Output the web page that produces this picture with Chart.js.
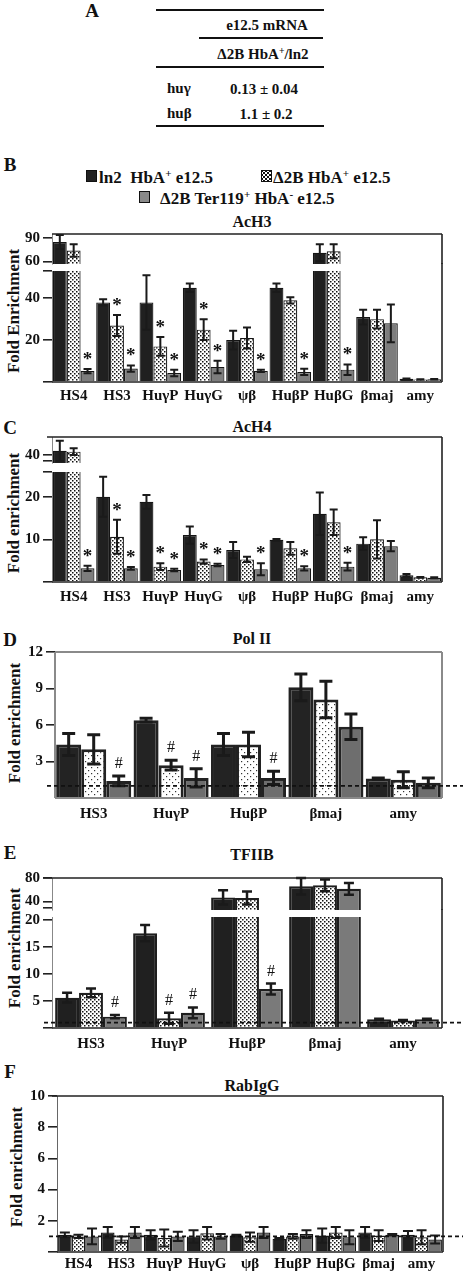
<!DOCTYPE html>
<html>
<head>
<meta charset="utf-8">
<script src="https://cdn.jsdelivr.net/npm/chart.js@4.4.1/dist/chart.umd.min.js"></script>
<style>
  body { margin: 0; background: #fff; }
  #fig { position: relative; width: 463px; height: 1271px; overflow: hidden;
         font-family: "Liberation Serif", "DejaVu Serif", serif; font-weight: bold; color: #111; }
  .t { position: absolute; white-space: nowrap; transform: translate(-50%, -50%); line-height: 1; }
  .l { position: absolute; white-space: nowrap; transform: translateY(-50%); line-height: 1; }
  .hr { position: absolute; height: 2px; background: #111; }
  .yt { position: absolute; white-space: nowrap; transform: translate(-50%, -50%) rotate(-90deg); font-size: 17px; line-height: 1; }
  .sw { position: absolute; width: 9px; height: 10px; border: 1.5px solid #111; }
  sup { font-size: 0.65em; vertical-align: 0.5em; line-height: 0; }
  canvas { position: absolute; left: 0; }
</style>
</head>
<body>
<div id="fig">
  <!-- A: table -->
  <div class="t" style="left:92px;top:10px;font-size:19px">A</div>
  <div class="hr" style="left:156px;top:9px;width:168px"></div>
  <div class="t" style="left:267px;top:25px;font-size:15px">e12.5 mRNA</div>
  <div class="hr" style="left:199px;top:37px;width:124px"></div>
  <div class="t" style="left:263px;top:54px;font-size:15px">Δ2B HbA<sup>+</sup>/ln2</div>
  <div class="hr" style="left:156px;top:66px;width:168px"></div>
  <div class="l" style="left:167px;top:88px;font-size:15px">huγ</div>
  <div class="t" style="left:264px;top:89px;font-size:15px">0.13 ± 0.04</div>
  <div class="l" style="left:167px;top:113px;font-size:15px">huβ</div>
  <div class="t" style="left:266px;top:114px;font-size:15px">1.1 ± 0.2</div>
  <div class="hr" style="left:156px;top:125px;width:168px"></div>

  <!-- legend -->
  <div class="t" style="left:10px;top:164px;font-size:19px">B</div>
  <div class="sw" style="left:86px;top:170px;background:#222"></div>
  <div class="l" style="left:99px;top:177px;font-size:17px">ln2&nbsp; HbA<sup>+</sup> e12.5</div>
  <div class="sw" id="dotSw" style="left:261px;top:170px"></div>
  <div class="l" style="left:273px;top:177px;font-size:17px">Δ2B HbA<sup>+</sup> e12.5</div>
  <div class="sw" style="left:139px;top:191px;background:#8a8a8a"></div>
  <div class="l" style="left:160px;top:198px;font-size:17px">Δ2B Ter119<sup>+</sup> HbA<sup>-</sup> e12.5</div>

  <!-- panel titles and letters -->
  <div class="t" style="left:252px;top:222px;font-size:16px">AcH3</div>
  <div class="t" style="left:10px;top:427px;font-size:19px">C</div>
  <div class="t" style="left:252px;top:427px;font-size:16px">AcH4</div>
  <div class="t" style="left:10px;top:639px;font-size:19px">D</div>
  <div class="t" style="left:252px;top:639px;font-size:16px">Pol II</div>
  <div class="t" style="left:10px;top:852px;font-size:19px">E</div>
  <div class="t" style="left:252px;top:855px;font-size:16px">TFIIB</div>
  <div class="t" style="left:10px;top:1071px;font-size:19px">F</div>
  <div class="t" style="left:252px;top:1086px;font-size:16px">RabIgG</div>

  <div class="yt" style="left:13px;top:311px">Fold Enrichment</div>
  <div class="yt" style="left:13px;top:513px">Fold enrichment</div>
  <div class="yt" style="left:14px;top:723px">Fold enrichment</div>
  <div class="yt" style="left:14px;top:948px">Fold enrichment</div>
  <div class="yt" style="left:16px;top:1167px">Fold enrichment</div>

  <canvas id="b1"></canvas><canvas id="b2"></canvas>
  <canvas id="c1"></canvas><canvas id="c2"></canvas>
  <canvas id="d1"></canvas>
  <canvas id="e1"></canvas><canvas id="e2"></canvas>
  <canvas id="f1"></canvas>
</div>

<script>
// ---------- data ----------
const cats9 = ['HS4', 'HS3', 'HuγP', 'HuγG', 'ψβ', 'HuβP', 'HuβG', 'βmaj', 'amy'];
const cats5 = ['HS3', 'HuγP', 'HuβP', 'βmaj', 'amy'];

// B: AcH3
const acH3Ln2    = [85, 38, 38, 45, 20, 45, 71, 31, 1.5];
const acH3Ln2Err = [9, 1.5, 13, 2, 4.5, 2, 11, 3.5, 0.2];
const acH3Hba    = [74, 27, 17, 25, 21, 39, 73, 30, 1.2];
const acH3HbaErr = [8, 5, 4.5, 5, 5, 1.5, 9, 4.5, 0.1];
const acH3Ter    = [5.2, 6.4, 4.3, 7.2, 5.3, 4.8, 5.9, 28, 1.3];
const acH3TerErr = [1, 1.5, 1.5, 3, 0.5, 1.5, 2.5, 9, 0.1];
const acH3HbaSig = ['', '*', '*', '*', '', '', '', '', ''];
const acH3TerSig = ['*', '*', '*', '*', '*', '*', '*', '', ''];

// C: AcH4
const acH4Ln2    = [42, 20, 18.8, 11, 7.5, 9.9, 16, 9, 1.6];
const acH4Ln2Err = [5, 4.7, 1.6, 2, 1.9, 0.2, 5, 1.5, 0.3];
const acH4Hba    = [41.6, 10.6, 3.6, 4.8, 5.3, 7.9, 14, 10, 1.1];
const acH4HbaErr = [1.7, 4, 0.8, 0.5, 0.6, 1.5, 3, 4.5, 0.1];
const acH4Ter    = [3.2, 3.2, 2.8, 4, 3, 3.2, 3.6, 8.4, 1.0];
const acH4TerErr = [0.6, 0.3, 0.3, 0.3, 1.4, 0.5, 0.9, 1.2, 0.1];
const acH4HbaSig = ['', '*', '*', '*', '', '', '', '', ''];
const acH4TerSig = ['*', '*', '*', '*', '*', '*', '*', '', ''];

// D: Pol II
const pol2Ln2    = [4.4, 6.4, 4.4, 9.1, 1.6];
const pol2Ln2Err = [0.9, 0.15, 0.9, 1.1, 0.05];
const pol2Hba    = [4.0, 2.7, 4.4, 8.1, 1.5];
const pol2HbaErr = [1.2, 0.4, 1.0, 1.5, 0.65];
const pol2Ter    = [1.4, 1.65, 1.65, 5.85, 1.25];
const pol2TerErr = [0.4, 0.75, 0.55, 1.05, 0.4];
const pol2HbaSig = ['', '#', '', '', ''];
const pol2TerSig = ['#', '#', '#', '', ''];

// E: TFIIB
const tf2bLn2    = [5.6, 17.5, 47, 66, 1.6];
const tf2bLn2Err = [0.9, 1.5, 12, 14, 0.1];
const tf2bHba    = [6.5, 1.8, 46, 67.5, 1.4];
const tf2bHbaErr = [0.8, 1.0, 11, 10, 0.1];
const tf2bTer    = [2.1, 2.8, 7.2, 61.6, 1.6];
const tf2bTerErr = [0.3, 1.0, 1.0, 10, 0.1];
const tf2bHbaSig = ['', '#', '', '', ''];
const tf2bTerSig = ['#', '#', '#', '', ''];

// F: RabIgG
const igLn2    = [1.1, 1.25, 1.1, 1.0, 1.05, 0.85, 1.05, 1.25, 1.1];
const igLn2Err = [0.15, 0.35, 0.3, 0.4, 0.05, 0.05, 0.45, 0.35, 0.25];
const igHba    = [1.0, 0.8, 0.9, 1.2, 0.95, 1.0, 1.25, 1.05, 0.95];
const igHbaErr = [0.1, 0.2, 0.55, 0.4, 0.3, 0.15, 0.35, 0.35, 0.45];
const igTer    = [1.0, 1.25, 1.0, 1.0, 1.25, 1.15, 0.95, 1.1, 0.8];
const igTerErr = [0.5, 0.35, 0.3, 0.15, 0.35, 0.25, 0.45, 0.05, 0.25];

const noSig = [];
const baseline = 1;

// ---------- helpers ----------
function dots(tile, size) {
  const c = document.createElement('canvas');
  c.width = tile * 2; c.height = tile * 2;
  const x = c.getContext('2d');
  x.fillStyle = '#fff'; x.fillRect(0, 0, c.width, c.height);
  x.fillStyle = '#111';
  x.fillRect(0, 0, size, size);
  x.fillRect(tile, tile, size, size);
  return x.createPattern(c, 'repeat');
}
function sparseDots() {
  const c = document.createElement('canvas');
  c.width = 6; c.height = 6;
  const x = c.getContext('2d');
  x.fillStyle = '#fff'; x.fillRect(0, 0, 6, 6);
  x.fillStyle = '#333';
  x.fillRect(1, 1, 1.2, 1.2);
  x.fillRect(4, 4, 1.2, 1.2);
  return x.createPattern(c, 'repeat');
}
document.getElementById('dotSw').style.background =
  'radial-gradient(#111 0.9px, transparent 1.1px) 0 0/4px 4px, radial-gradient(#111 0.9px, transparent 1.1px) 2px 2px/4px 4px, #fff';

const FONT = "'Liberation Serif', 'DejaVu Serif', serif";

// error bars, significance marks, frame and the dashed baseline
const decor = {
  id: 'decor',
  afterDatasetsDraw(chart, args, o) {
    const { ctx, chartArea: a, scales: { y } } = chart;
    ctx.save();
    ctx.beginPath();
    ctx.rect(a.left - 2, a.top - 4, a.right - a.left + 4, a.bottom - a.top + 6);
    ctx.clip();
    ctx.strokeStyle = '#1a1a1a';
    ctx.lineWidth = o.errWidth;
    chart.data.datasets.forEach((ds, di) => {
      chart.getDatasetMeta(di).data.forEach((bar, i) => {
        const v = ds.data[i], e = ds.errors[i];
        const yt = y.getPixelForValue(v + e), yb = y.getPixelForValue(Math.max(v - e, 0));
        ctx.beginPath();
        ctx.moveTo(bar.x, yb); ctx.lineTo(bar.x, yt);
        ctx.moveTo(bar.x - o.cap, yt); ctx.lineTo(bar.x + o.cap, yt);
        ctx.moveTo(bar.x - o.cap, yb); ctx.lineTo(bar.x + o.cap, yb);
        ctx.stroke();
        const m = ds.marks[i];
        if (m && yt > a.top + 10) {
          ctx.fillStyle = '#111';
          ctx.textAlign = 'center';
          ctx.textBaseline = 'alphabetic';
          if (m === '*') { ctx.font = 'bold 19px ' + FONT; ctx.fillText(m, bar.x, yt - 4); }
          else { ctx.font = '16px ' + FONT; ctx.fillText(m, bar.x, yt - 8); }
        }
      });
    });
    ctx.restore();

    ctx.save();
    ctx.strokeStyle = o.frameColor;
    ctx.lineWidth = o.frameWidth;
    ctx.beginPath();
    if (o.top) { ctx.moveTo(a.left - (o.topExt || 0), a.top); ctx.lineTo(a.right, a.top); }
    if (o.right) { ctx.moveTo(a.right, a.top - (o.rightUp || 0)); ctx.lineTo(a.right, a.bottom); }
    if (o.left) { ctx.moveTo(a.left, a.top); ctx.lineTo(a.left, a.bottom); }
    ctx.stroke();
    ctx.strokeStyle = o.bottomColor || o.frameColor;
    ctx.beginPath();
    if (o.bottom) { ctx.moveTo(a.left, a.bottom); ctx.lineTo(a.right, a.bottom); }
    ctx.stroke();
    if (o.dash) {
      const yy = y.getPixelForValue(baseline);
      ctx.strokeStyle = '#111';
      ctx.lineWidth = 1.6;
      ctx.setLineDash([4, 3]);
      ctx.beginPath();
      ctx.moveTo(a.left - 8, yy); ctx.lineTo(chart.width, yy);
      ctx.stroke();
    }
    ctx.restore();
  }
};

function panel(id, o) {
  const padTop = 12, xH = o.labels ? 30 : 0, padBot = o.labels ? 0 : 4;
  const cv = document.getElementById(id);
  cv.width = 463;
  cv.height = padTop + (o.bottom - o.top) + xH + padBot;
  cv.style.top = (o.top - padTop) + 'px';
  const s = o.style;
  return new Chart(cv, {
    type: 'bar',
    data: {
      labels: o.cats,
      datasets: o.series.map((d, k) => ({
        data: d,
        errors: o.errs[k],
        marks: o.marks[k] || noSig,
        backgroundColor: s.fills[k],
        borderColor: s.edge,
        borderWidth: s.bw,
        barPercentage: 1,
        categoryPercentage: s.cp,
        clip: 0
      }))
    },
    options: {
      responsive: false,
      animation: false,
      devicePixelRatio: 1,
      layout: { padding: { top: padTop, bottom: padBot, left: 0, right: 463 - o.right } },
      plugins: {
        legend: { display: false },
        tooltip: { enabled: false },
        decor: Object.assign({ errWidth: s.ew, cap: s.cap, frameColor: s.frame || '#222', frameWidth: s.fw || 1.6 }, o.frame)
      },
      scales: {
        x: {
          display: !!o.labels,
          grid: { display: false, drawTicks: false },
          border: { display: false },
          ticks: { font: { family: FONT, size: 15, weight: 'bold' }, color: '#111', padding: o.xPad || 5, autoSkip: false, maxRotation: 0 },
          afterFit: sc => { sc.height = xH; sc.paddingLeft = 0; sc.paddingRight = 0; }
        },
        y: {
          min: o.min, max: o.max,
          afterBuildTicks: sc => { sc.ticks = o.ticks.map(t => ({ value: t[0] })); },
          ticks: { callback: (v, i) => o.ticks[i][1], font: { family: FONT, size: 15, weight: 'bold' }, color: '#111', padding: 3, autoSkip: false },
          grid: { drawOnChartArea: false, drawTicks: true, tickLength: 9, color: '#222', lineWidth: 1.6 },
          border: { display: true, color: s.leftColor || '#888', width: 1 },
          afterFit: sc => { sc.width = o.left; sc.paddingTop = 0; sc.paddingBottom = 0; }
        }
      }
    },
    plugins: [decor]
  });
}

const dense = dots(2, 1.5);
const thin = { fills: ['#202020', dense, '#7d7d7d'], edge: '#151515', bw: 1.2, cp: 0.96, ew: 2, cap: 4 };
const thick = { fills: ['#232323', sparseDots(), '#6e6e6e'], edge: '#222', bw: 3, cp: 0.97, ew: 3, cap: 6.5, frame: '#8a8a8a', fw: 2, leftColor: '#8a8a8a' };
const mid = { fills: ['#202020', dense, '#7a7a7a'], edge: '#1e1e1e', bw: 2.2, cp: 0.92, ew: 2.5, cap: 5 };
const igStyle = { fills: ['#202020', dense, '#737373'], edge: '#151515', bw: 1.3, cp: 0.95, ew: 2, cap: 5, leftColor: '#666' };

// B
panel('b1', { cats: cats9, series: [acH3Ln2, acH3Hba, acH3Ter], errs: [acH3Ln2Err, acH3HbaErr, acH3TerErr], marks: [],
  top: 234, bottom: 264, left: 52, right: 442, min: 56.6, max: 95.2, ticks: [[60, '60'], [90, '90']],
  style: thin, frame: { top: true, right: true } });
panel('b2', { cats: cats9, series: [acH3Ln2, acH3Hba, acH3Ter], errs: [acH3Ln2Err, acH3HbaErr, acH3TerErr], marks: [noSig, acH3HbaSig, acH3TerSig],
  top: 271, bottom: 382, left: 52, right: 442, min: 0, max: 53, ticks: [[0, ''], [20, '20'], [40, '40'], [53, '']],
  style: thin, labels: true, xPad: 5, frame: { right: true, rightUp: 8, bottom: true } });

// C
panel('c1', { cats: cats9, series: [acH4Ln2, acH4Hba, acH4Ter], errs: [acH4Ln2Err, acH4HbaErr, acH4TerErr], marks: [],
  top: 437, bottom: 463, left: 52, right: 442, min: 36, max: 48.8, ticks: [[37, ''], [40, '40']],
  style: thin, frame: { top: true, right: true, topExt: 5 } });
panel('c2', { cats: cats9, series: [acH4Ln2, acH4Hba, acH4Ter], errs: [acH4Ln2Err, acH4HbaErr, acH4TerErr], marks: [noSig, acH4HbaSig, acH4TerSig],
  top: 472, bottom: 582, left: 52, right: 442, min: 0, max: 25.8, ticks: [[0, ''], [10, '10'], [20, '20'], [25.8, '']],
  style: thin, labels: true, xPad: 6, frame: { right: true, rightUp: 9, bottom: true } });

// D
panel('d1', { cats: cats5, series: [pol2Ln2, pol2Hba, pol2Ter], errs: [pol2Ln2Err, pol2HbaErr, pol2TerErr], marks: [noSig, pol2HbaSig, pol2TerSig],
  top: 652, bottom: 798, left: 55, right: 442, min: 0, max: 12, ticks: [[3, '3'], [6, '6'], [9, '9'], [12, '12']],
  style: thick, labels: true, xPad: 7, frame: { top: true, right: true, left: true, bottom: true, dash: true } });

// E
panel('e1', { cats: cats5, series: [tf2bLn2, tf2bHba, tf2bTer], errs: [tf2bLn2Err, tf2bHbaErr, tf2bTerErr], marks: [],
  top: 878, bottom: 910, left: 52, right: 442, min: 25.6, max: 80, ticks: [[30, ''], [40, '40'], [80, '80']],
  style: mid, frame: { top: true, right: true, topExt: 9 } });
panel('e2', { cats: cats5, series: [tf2bLn2, tf2bHba, tf2bTer], errs: [tf2bLn2Err, tf2bHbaErr, tf2bTerErr], marks: [noSig, tf2bHbaSig, tf2bTerSig],
  top: 917, bottom: 1028, left: 52, right: 442, min: 0, max: 20.5, ticks: [[0, ''], [5, '5'], [10, '10'], [15, '15'], [20, '20']],
  style: mid, labels: true, xPad: 7, frame: { right: true, rightUp: 8, bottom: true, dash: true } });

// F
panel('f1', { cats: cats9, series: [igLn2, igHba, igTer], errs: [igLn2Err, igHbaErr, igTerErr], marks: [],
  top: 1096, bottom: 1252, left: 57, right: 443, min: 0, max: 10, ticks: [[0, ''], [2, '2'], [4, '4'], [6, '6'], [8, '8'], [10, '10']],
  style: igStyle, labels: true, xPad: 3, frame: { top: true, right: true, bottom: true, dash: true, topExt: 5 } });
</script>
</body>
</html>
